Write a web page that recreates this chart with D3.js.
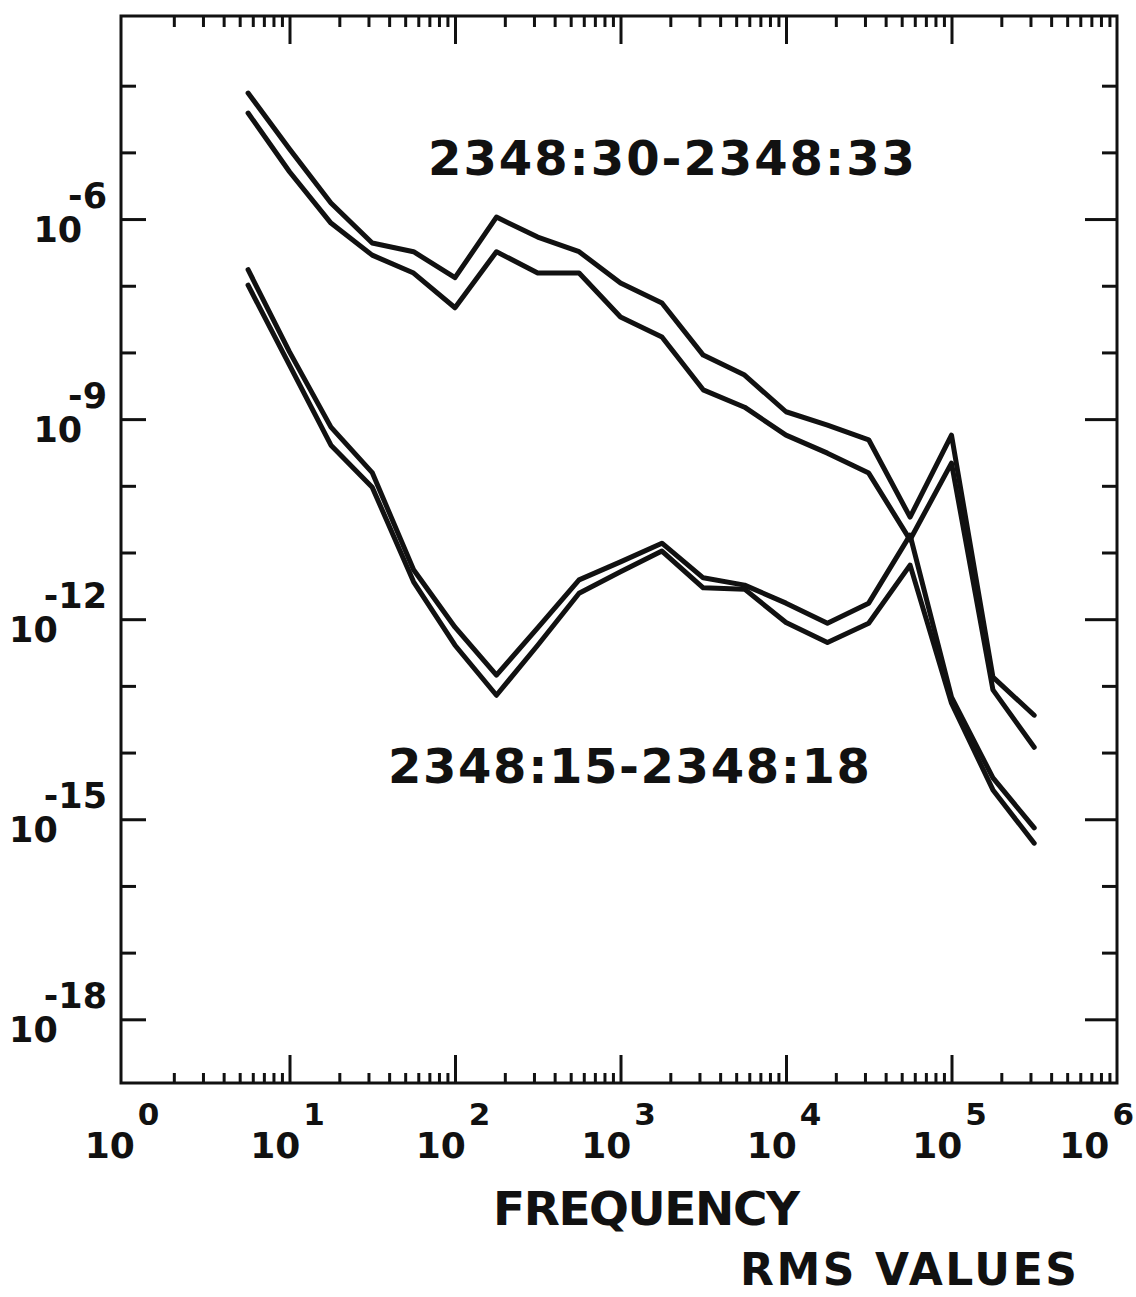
<!DOCTYPE html>
<html><head><meta charset="utf-8">
<script src="https://cdn.jsdelivr.net/npm/d3@7"></script>
<style>
body{margin:0;background:#fff}
svg{display:block}
text{font-family:"DejaVu Sans","Liberation Sans",Arial,sans-serif;font-weight:bold;fill:#111}
</style>
</head><body>
<svg id="chart" width="1136" height="1297"></svg>
<script>
// ---- data ----
const frequencies = [5.62, 10, 17.8, 31.6, 56.2, 100, 178, 316, 562, 1000,
                     1780, 3160, 5620, 10000, 17800, 31600, 56200, 100000, 178000, 316000];
// 2348:30-2348:33 (upper and lower trace)
const rms3033Upper = [7.76e-5, 1.12e-5, 1.74e-6, 4.37e-7, 3.24e-7, 1.32e-7, 1.07e-6, 5.37e-7, 3.24e-7, 1.10e-7,
                      5.50e-8, 9.12e-9, 4.57e-9, 1.29e-9, 8.13e-10, 4.90e-10, 3.39e-11, 5.75e-10, 1.35e-13, 3.63e-14];
const rms3033Lower = [3.89e-5, 5.13e-6, 8.71e-7, 2.88e-7, 1.55e-7, 4.68e-8, 3.24e-7, 1.55e-7, 1.55e-7, 3.39e-8,
                      1.70e-8, 2.75e-9, 1.51e-9, 5.75e-10, 3.09e-10, 1.55e-10, 1.55e-11, 2.19e-10, 8.71e-14, 1.20e-14];
// 2348:15-2348:18 (upper and lower trace)
const rms1518Upper = [1.74e-7, 1.02e-8, 7.59e-10, 1.58e-10, 5.50e-12, 7.59e-13, 1.45e-13, 7.41e-13, 3.89e-12, 7.24e-12,
                      1.38e-11, 4.17e-12, 3.24e-12, 1.74e-12, 8.71e-13, 1.74e-12, 1.82e-11, 6.76e-14, 4.17e-15, 7.41e-16];
const rms1518Lower = [1.02e-7, 6.46e-9, 4.07e-10, 9.55e-11, 3.63e-12, 4.07e-13, 7.24e-14, 4.07e-13, 2.45e-12, 5.13e-12,
                      1.05e-11, 2.95e-12, 2.82e-12, 8.91e-13, 4.47e-13, 8.71e-13, 6.46e-12, 5.50e-14, 2.75e-15, 4.37e-16];
const seriesLabels = ["2348:30-2348:33", "2348:15-2348:18"];
const xLabelExps = [0, 1, 2, 3, 4, 5, 6];
const yLabelExps = [-6, -9, -12, -15, -18];
const yTickExps = [-4, -5, -6, -7, -8, -9, -10, -11, -12, -13, -14, -15, -16, -17, -18];
const xAxisTitle = "FREQUENCY";
const chartNote = "RMS VALUES";

// ---- layout ----
const L = 121, R = 1117, T = 16, B = 1083;
const svg = d3.select("#chart");
svg.append("rect").attr("width",1136).attr("height",1297).attr("fill","#fff");

const x = d3.scaleLog().domain([1, 1e6]).range([124, 1117]);
const y = d3.scaleLog().domain([1e-19, 1e-3]).range([1086, 19]);

const majorX = xLabelExps.slice(1, -1).map(e => Math.pow(10, e));
const minorX = [];
for (let e = 0; e < 6; e++) for (let m = 2; m <= 9; m++) minorX.push(m * Math.pow(10, e));

const labeledY = yLabelExps.map(e => Math.pow(10, e));
const plainY = yTickExps.filter(e => !yLabelExps.includes(e)).map(e => Math.pow(10, e));

function styleAxis(g) {
  g.select(".domain").remove();
  g.selectAll(".tick line").attr("stroke", "#111").attr("stroke-width", 3);
  g.selectAll(".tick text").remove();
}

// bottom axis
svg.append("g").attr("transform", `translate(0,${B})`)
  .call(d3.axisBottom(x).tickValues(minorX).tickSize(-10).tickFormat("")).call(styleAxis);
svg.append("g").attr("transform", `translate(0,${B})`)
  .call(d3.axisBottom(x).tickValues(majorX).tickSize(-28).tickFormat("")).call(styleAxis);
// top axis
svg.append("g").attr("transform", `translate(0,${T})`)
  .call(d3.axisTop(x).tickValues(minorX).tickSize(-11).tickFormat("")).call(styleAxis);
svg.append("g").attr("transform", `translate(0,${T})`)
  .call(d3.axisTop(x).tickValues(majorX).tickSize(-28).tickFormat("")).call(styleAxis);
// left axis
svg.append("g").attr("transform", `translate(${L},0)`)
  .call(d3.axisLeft(y).tickValues(plainY).tickSize(-15).tickFormat("")).call(styleAxis);
svg.append("g").attr("transform", `translate(${L},0)`)
  .call(d3.axisLeft(y).tickValues(labeledY).tickSize(-25).tickFormat("")).call(styleAxis);
// right axis
svg.append("g").attr("transform", `translate(${R},0)`)
  .call(d3.axisRight(y).tickValues(plainY).tickSize(-15).tickFormat("")).call(styleAxis);
svg.append("g").attr("transform", `translate(${R},0)`)
  .call(d3.axisRight(y).tickValues(labeledY).tickSize(-32).tickFormat("")).call(styleAxis);

// frame
svg.append("rect").attr("x", L).attr("y", T).attr("width", R - L).attr("height", B - T)
  .attr("fill", "none").attr("stroke", "#111").attr("stroke-width", 3);

// y labels
yLabelExps.forEach(e => {
  const t = svg.append("text").attr("x", 107).attr("y", y(Math.pow(10, e)) + 23)
    .attr("text-anchor", "end").style("font-size", "35px");
  t.append("tspan").text("10");
  t.append("tspan").text("-" + Math.abs(e)).attr("dy", -34).attr("dx", -14);
});

// x labels
xLabelExps.forEach((e, i) => {
  const last = i === xLabelExps.length - 1;
  const t = svg.append("text")
    .attr("x", last ? 1134 : x(Math.pow(10, e)) - 2)
    .attr("y", 1158)
    .attr("text-anchor", last ? "end" : "middle");
  t.append("tspan").text("10").style("font-size", "36px");
  t.append("tspan").text(String(e)).style("font-size", "31px").attr("dy", -33).attr("dx", 3);
});

// curves
const line = d3.line().x(d => x(d[0])).y(d => y(d[1]));
[rms3033Upper, rms3033Lower, rms1518Upper, rms1518Lower].forEach(vals => {
  svg.append("path")
    .datum(frequencies.map((f, i) => [f, vals[i]]))
    .attr("d", line)
    .attr("fill", "none").attr("stroke", "#111").attr("stroke-width", 5)
    .attr("stroke-linejoin", "round").attr("stroke-linecap", "round");
});

// annotations
svg.append("text").attr("x", 428).attr("y", 175).style("font-size", "48px")
  .attr("textLength", 487).attr("lengthAdjust", "spacing").text(seriesLabels[0]);
svg.append("text").attr("x", 388).attr("y", 783).style("font-size", "48px")
  .attr("textLength", 482).attr("lengthAdjust", "spacing").text(seriesLabels[1]);
svg.append("text").attr("x", 493).attr("y", 1225).style("font-size", "47px")
  .attr("textLength", 307).attr("lengthAdjust", "spacing").text(xAxisTitle);
svg.append("text").attr("x", 740).attr("y", 1285).style("font-size", "44px")
  .attr("textLength", 337).attr("lengthAdjust", "spacing").text(chartNote);
</script>
</body></html>
